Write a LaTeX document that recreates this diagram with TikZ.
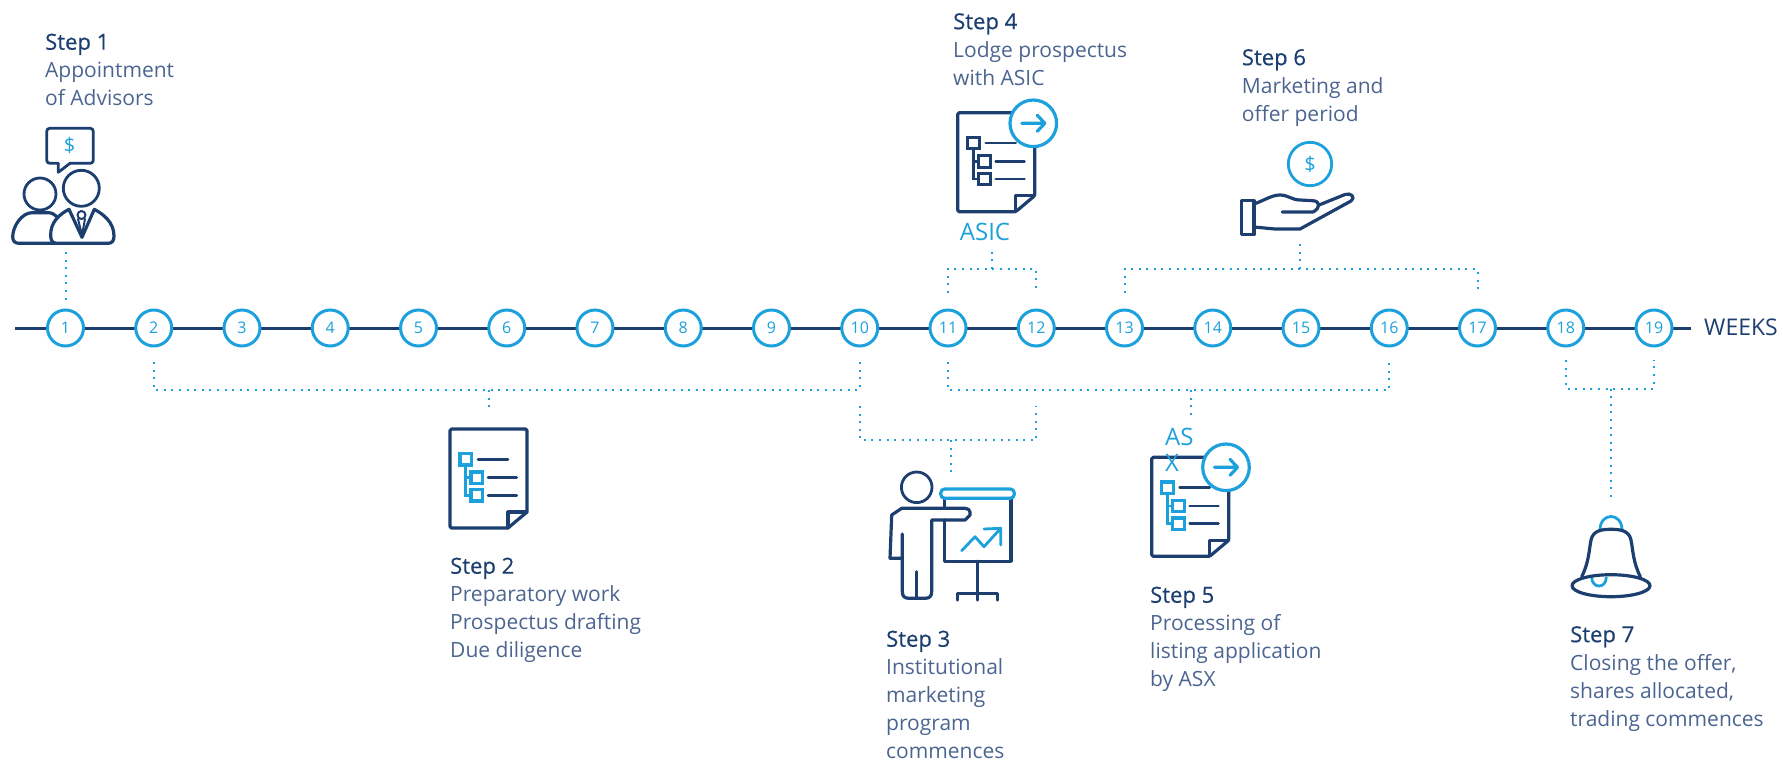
\documentclass[tikz,border=0pt]{standalone}
\usepackage{fontspec}
\setmainfont{Open Sans}
\newfontfamily\headfont[FakeBold=0.5,Scale=1.05]{Open Sans}
\usetikzlibrary{calc}
\definecolor{navy}{HTML}{1C3F70}
\definecolor{bodyblue}{HTML}{4C6590}
\definecolor{cyanline}{HTML}{1DA1DC}

\tikzset{
  weekdot/.style={circle,draw=cyanline,line width=3pt,fill=white,text=cyanline,
    minimum size=36pt,inner sep=0pt,font=\fontsize{16}{16}\selectfont},
  dotline/.style={cyanline,line width=2pt,dash pattern=on 2pt off 5.6pt},
  iconline/.style={navy,line width=3.2pt,line join=round,line cap=round},
  iconcyan/.style={cyanline,line width=3.2pt,line join=round,line cap=round},
  steptext/.style={anchor=north west,inner sep=0pt,align=left,text=bodyblue,
    font=\fontsize{21}{28}\selectfont},
  markcyan/.style={text=cyanline,inner sep=0pt,font=\fontsize{24}{26}\selectfont},
  dollarmark/.style={text=cyanline,inner sep=0pt,font=\fontsize{20}{20}\selectfont},
  pics/docicon/.style={code={
    \draw[iconline,rounded corners=1.5pt] (0,0) -- (77,0) -- (77,83) -- (58,99) -- (0,99) -- cycle;
    \draw[iconline] (77,83) -- (58,83) -- (58,99);
    \draw[iconline,line width=2.8pt] (28,30.3) -- (58,30.3) (38,48.7) -- (66.7,48.7) (38,66.3) -- (66.7,66.3);
    \draw[#1,line width=2.6pt] (15.7,36) -- (15.7,66.3) -- (21,66.3) (15.7,48.7) -- (21,48.7);
    \draw[#1,line width=3.2pt] (10,24.6) rectangle (21.4,36) (21,43) rectangle (32.4,54.4) (21,60.6) rectangle (32.4,72);
  }},
  pics/arrowbadge/.style={code={
    \draw[iconcyan,fill=white] (0,0) circle (23.3);
    \draw[iconcyan] (-11.5,0) -- (11.5,0) (4,-8) -- (11.5,0) -- (4,8);
  }}
}

\begin{document}
\begin{tikzpicture}[x=1pt,y=-1pt]
\useasboundingbox (0,0) rectangle (1783,761);

% week line
\draw[navy,line width=3pt] (15,328) -- (1691,328);
\foreach \w in {1,...,19} {
  \node[weekdot] (w\w) at ({65.5+(\w-1)*88.25},328) {\w};
}
\node[anchor=west,text=navy,inner sep=0pt,font=\fontsize{23}{23}\selectfont] (weeks) at (1704,327) {WEEKS};

% brackets above and below the line
\coordinate (stemA) at (65.5,252);
\draw[dotline] (stemA) -- ($(w1)+(0,-24)$);
\coordinate (stemB) at (489,412);
\draw[dotline] ($(w2)+(0,34)$) -- (w2 |- 0,390) -- (w10 |- 0,390) -- ($(w10)+(0,34)$);
\draw[dotline] (stemB |- 0,390) -- (stemB);
\coordinate (stemC) at (950.7,476);
\draw[dotline] ($(w10)+(0,78)$) -- (w10 |- 0,440) -- (w12 |- 0,440) -- ($(w12)+(0,78)$);
\draw[dotline] (stemC |- 0,440) -- (stemC);
\coordinate (stemD) at (992,247);
\draw[dotline] ($(w11)+(0,-35)$) -- (w11 |- 0,269) -- (w12 |- 0,269) -- ($(w12)+(0,-35)$);
\draw[dotline] (stemD |- 0,269) -- (stemD);
\coordinate (stemE) at (1190.7,415);
\draw[dotline] ($(w11)+(0,34)$) -- (w11 |- 0,390) -- (w16 |- 0,390) -- ($(w16)+(0,34)$);
\draw[dotline] (stemE |- 0,390) -- (stemE);
\coordinate (stemF) at (1300,242);
\draw[dotline] ($(w13)+(0,-35)$) -- (w13 |- 0,269) -- (w17 |- 0,269) -- ($(w17)+(0,-35)$);
\draw[dotline] (stemF |- 0,269) -- (stemF);
\coordinate (stemG) at (1611,500);
\draw[dotline] ($(w18)+(0,32)$) -- (w18 |- 0,388.5) -- (w19 |- 0,388.5) -- ($(w19)+(0,32)$);
\draw[dotline] (stemG |- 0,388.5) -- (stemG);

% step 1, two advisors
\draw[iconline,line width=2.8pt,rounded corners=3pt] (70,163.3) -- (93.3,163.3) -- (93.3,128.3) -- (46.7,128.3) -- (46.7,163.3) -- (58.3,163.3);
\draw[iconline,line width=2.8pt] (70,163.3) -- (58.3,172.3) -- (58.3,163.3);
\node[dollarmark] (dollarA) at (69.7,145) {\$};
\draw[iconline,line width=2.8pt] (40,194) circle (16);
\draw[iconline,line width=2.8pt] (81.3,188.3) circle (18);
\draw[iconline] (58,218) .. controls (54,214) and (52,212.7) .. (48,212.7) -- (32,212.7) .. controls (22,212.7) and (12.7,226) .. (12.7,237) .. controls (12.7,241) and (15,243.3) .. (19,243.3) -- (56,243.3);
\draw[iconline,fill=white] (69,209.3) .. controls (60,214) and (50,222) .. (50.7,236) .. controls (50.7,241) and (53,243.3) .. (57,243.3) -- (108,243.3) .. controls (112,243.3) and (114,241) .. (114,236) .. controls (114,222) and (103,214) .. (94.3,209.3) -- (82,237.3) -- cycle;
\draw[iconline,line width=2pt] (81.5,215) circle (4) (78,219) -- (82,235) -- (85,219);
\node[steptext] (step1) at (45,33.5) {{\headfont\color{navy}Step 1}\\Appointment\\of Advisors};

% step 2
\pic at (450,429) {docicon=cyanline};
\node[steptext] (step2) at (450,557.5) {{\headfont\color{navy}Step 2}\\Preparatory work\\Prospectus drafting\\Due diligence};

% step 3, presenter
\draw[iconline,line width=2.8pt] (916.7,487.3) circle (15.3);
\draw[iconline] (944.3,498) -- (944.3,508) (944.3,520) -- (944.3,561.3) -- (1011,561.3) -- (1011,498);
\draw[iconline] (977.3,561.3) -- (977.3,600) (957.3,600) -- (957.3,593.3) -- (997.3,593.3) -- (997.3,600);
\draw[iconline] (902.3,534) -- (902.3,591) .. controls (902.3,596) and (904,598.3) .. (909,598.3) -- (925,598.3) .. controls (930,598.3) and (931.7,596) .. (931.7,591) -- (931.7,520) -- (965,520) -- (970,515) -- (970,512) .. controls (970,510) and (968,508.3) .. (965,508.3) -- (901.7,508.3) -- (891.7,515) -- (890,558.3) -- (902.3,558.3);
\draw[iconline] (916.7,571.7) -- (916.7,598.3);
\draw[iconcyan,rounded corners=4pt,fill=white] (940.7,489) rectangle (1014.3,498.3);
\draw[iconcyan,line width=2.8pt] (961.7,550.7) -- (975,536.7) -- (984,546.7) -- (1000.7,528.3) (984,529) -- (1000.7,528.3) -- (1000.7,545);
\node[steptext] (step3) at (886,630.5) {{\headfont\color{navy}Step 3}\\Institutional\\marketing\\program\\commences};

% step 4
\pic at (957.7,112.7) {docicon=navy};
\pic at (1033.3,123.3) {arrowbadge};
\node[markcyan] (asicmark) at (985,232) {ASIC};
\node[steptext] (step4) at (953,13) {{\headfont\color{navy}Step 4}\\Lodge prospectus\\with ASIC};

% step 5
\pic at (1151.7,457.3) {docicon=cyanline};
\pic at (1226,467.3) {arrowbadge};
\node[markcyan,anchor=north west,align=left] (asxmark) at (1165,428) {AS\\X};
\node[steptext] (step5) at (1150,586.5) {{\headfont\color{navy}Step 5}\\Processing of\\listing application\\by ASX};

% step 6, hand and coin
\draw[iconcyan,line width=2.8pt] (1310,164) circle (21.7);
\node[dollarmark] (dollarB) at (1310,164) {\$};
\draw[iconline] (1241.3,200.7) rectangle (1254,234.7);
\draw[iconline] (1254,204) .. controls (1265,200) and (1272,195) .. (1280,195) .. controls (1288,195) and (1292,200) .. (1300,200) -- (1313,200.7) .. controls (1320,201) and (1321,208) .. (1313,212) -- (1282.3,212);
\draw[iconline] (1319,205) -- (1345,194.5) .. controls (1351,192) and (1356,198) .. (1351,201) -- (1300,229) -- (1275,229) -- (1254,227);
\node[steptext] (step6) at (1241.7,49) {{\headfont\color{navy}Step 6}\\Marketing and\\offer period};

% step 7, bell
\draw[iconcyan,line width=2.8pt] (1600,530) .. controls (1600,512) and (1622,512) .. (1622,530);
\draw[iconcyan,line width=2.8pt] (1591.7,577) .. controls (1591.7,589) and (1606.3,589) .. (1606.3,577);
\draw[iconline,fill=white] (1581.7,576.7) .. controls (1589,562) and (1589,550) .. (1591,540) .. controls (1593,530) and (1603,529.3) .. (1611,529.3) .. controls (1619,529.3) and (1629,530) .. (1631,540) .. controls (1633,550) and (1633,562) .. (1640.3,576.7);
\draw[iconline] (1611,585.7) ellipse [x radius=39,y radius=11];
\node[steptext] (step7) at (1570,626) {{\headfont\color{navy}Step 7}\\Closing the offer,\\shares allocated,\\trading commences};
\end{tikzpicture}
\end{document}
